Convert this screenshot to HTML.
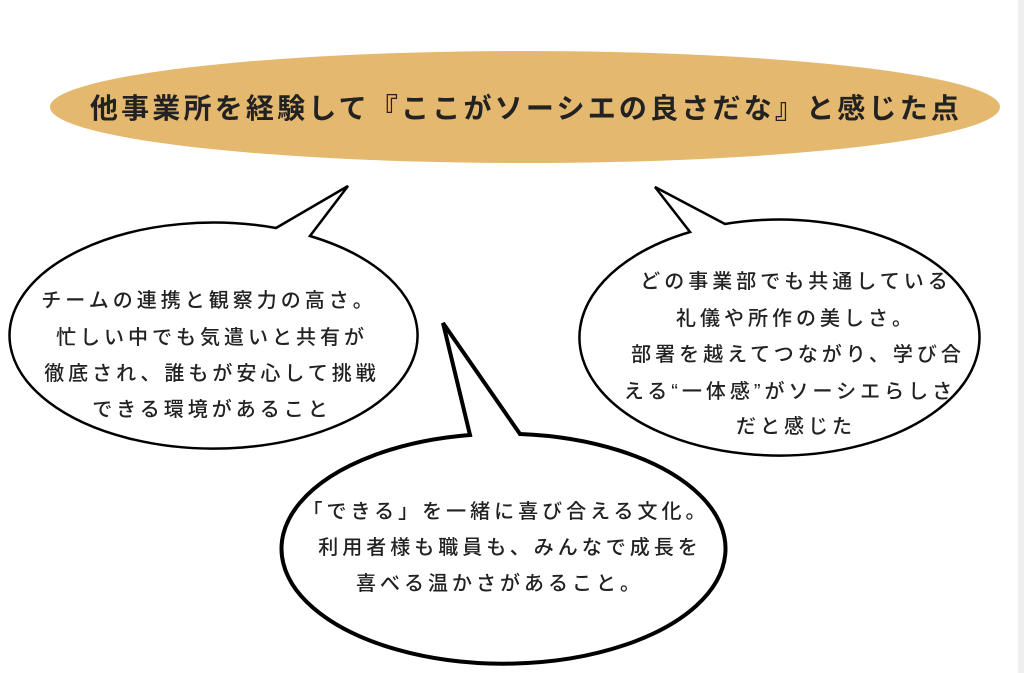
<!DOCTYPE html>
<html><head><meta charset="utf-8"><style>
html,body{margin:0;padding:0;background:#fff;width:1024px;height:673px;overflow:hidden}
svg{display:block}
text{font-family:"Liberation Sans","Noto Sans CJK JP",sans-serif;fill:#222}
.t{font-size:20px;letter-spacing:4px;text-anchor:middle;font-weight:500}
</style></head><body>
<svg width="1024" height="673" viewBox="0 0 1024 673" xmlns="http://www.w3.org/2000/svg">
<rect x="1018" y="0" width="6" height="673" fill="#efefef"/>
<ellipse cx="525" cy="107" rx="475" ry="56" fill="#e4b96f"/>
<text x="526" y="118" text-anchor="middle" font-size="28" font-weight="bold" letter-spacing="3.2" fill="#111">他事業所を経験して『ここがソーシエの良さだな』と感じた点</text>

<!-- left bubble -->
<path d="M276,228 L348,186 L310,236 A204,113 0 1 1 276,228 Z" fill="#fff" stroke="#000" stroke-width="2.5" stroke-linejoin="miter"/>
<text class="t" x="209" y="307">チームの連携と観察力の高さ。</text>
<text class="t" x="212" y="344">忙しい中でも気遣いと共有が</text>
<text class="t" x="212" y="380">徹底され、誰もが安心して挑戦</text>
<text class="t" x="212" y="416">できる環境があること</text>

<!-- right bubble -->
<path d="M725,224 L655,187 L690,232 A200,118 0 1 0 725,224 Z" fill="#fff" stroke="#000" stroke-width="2.5"/>
<text class="t" x="796" y="288">どの事業部でも共通している</text>
<text class="t" x="796" y="325">礼儀や所作の美しさ。</text>
<text class="t" x="798" y="361">部署を越えてつながり、学び合</text>
<text class="t" x="790" y="398">える“一体感”がソーシエらしさ</text>
<text class="t" x="796" y="433">だと感じた</text>

<!-- bottom bubble -->
<path d="M470,435 L443,323 L520,434 A222,115 0 1 1 470,435 Z" fill="#fff" stroke="#000" stroke-width="4"/>
<text class="t" x="506" y="518">「できる」を一緒に喜び合える文化。</text>
<text class="t" x="510" y="554">利用者様も職員も、みんなで成長を</text>
<text class="t" x="500" y="590">喜べる温かさがあること。</text>
</svg>
</body></html>
